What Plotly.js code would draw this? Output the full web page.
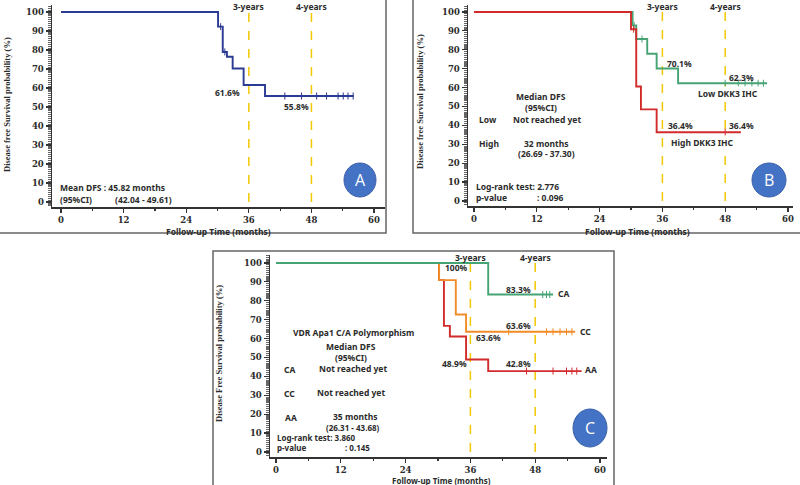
<!DOCTYPE html>
<html>
<head>
<meta charset="utf-8">
<script src="https://cdn.plot.ly/plotly-3.0.1.min.js"></script>
<style>
  html, body { margin: 0; padding: 0; background: #fff; }
  #km { width: 800px; height: 485px; }
</style>
</head>
<body>
<div id="km"></div>
<script>
// Kaplan-Meier curves, DFS (months)

// Panel A - whole cohort
const timeA = [0, 30.1, 31.0, 31.8, 32.9, 35.0, 39.1, 56.1];
const survA = [100, 92.3, 79.0, 76.5, 70.3, 61.6, 55.8, 55.8];
const censTimeA = [30.6, 31.4, 42.9, 46.1, 49.0, 50.9, 53.1, 54.1, 55.0, 56.0];
const censSurvA = [92.3, 79.0, 55.8, 55.8, 55.8, 55.8, 55.8, 55.8, 55.8, 55.8];

// Panel B - DKK3 IHC
const timeLow = [0, 30.3, 31.0, 33.1, 34.9, 39.0, 56.0];
const survLow = [100, 92.9, 85.7, 77.9, 70.1, 62.3, 62.3];
const censTimeLow = [30.6, 32.1, 48.0, 50.5, 51.8, 53.1, 54.3, 55.3];
const censSurvLow = [92.9, 85.7, 62.3, 62.3, 62.3, 62.3, 62.3, 62.3];
const timeHigh = [0, 30.0, 31.0, 31.9, 34.9, 51.0];
const survHigh = [100, 90.9, 60.6, 48.5, 36.4, 36.4];
const censTimeHigh = [30.5, 48.0];
const censSurvHigh = [90.9, 36.4];

// Panel C - VDR Apa1 C/A
const timeCA = [0, 39.3, 51.3];
const survCA = [100, 83.3, 83.3];
const censTimeCA = [49.4, 50.1, 50.7];
const censSurvCA = [83.3, 83.3, 83.3];
const timeCC = [0, 30.2, 33.3, 35.2, 55.4];
const survCC = [100, 90.9, 72.7, 63.6, 63.6];
const censTimeCC = [43.1, 50.1, 51.3, 52.6, 53.8, 54.8];
const censSurvCC = [63.6, 63.6, 63.6, 63.6, 63.6, 63.6];
const timeAA = [0, 30.2, 31.1, 32.2, 35.2, 39.3, 56.6];
const survAA = [100, 90.9, 66.7, 61.1, 48.9, 42.8, 42.8];
const censTimeAA = [46.4, 51.3, 53.8, 54.8, 55.7];
const censSurvAA = [42.8, 42.8, 42.8, 42.8, 42.8];

// ticks & milestones
const xTicks = [0, 12, 24, 36, 48, 60];
const yTicks = [0, 10, 20, 30, 40, 50, 60, 70, 80, 90, 100];
const milestones = [36, 48];
const milestoneLabels = ['3-years', '4-years'];

const col = {
  blue: '#2B3A92', green: '#45A374', red: '#D22B2B', orange: '#F28C28',
  yellow: '#F3C800', axis: '#333333', text: '#2b2b2b', badge: '#4472C4'
};

const W = 800, H = 485;
const PX = x => x / W;
const PY = y => 1 - y / H;
const B = s => '<b>' + s + '</b>';

const txtFont = { family: 'Noto Sans, DejaVu Sans, sans-serif', size: 8.5, color: col.text };
const tickFont = { family: 'DejaVu Serif, serif', size: 8.5, color: col.text };

function curve(x, y, color, xa, ya) {
  return { x: x, y: y, xaxis: xa, yaxis: ya, mode: 'lines', line: { shape: 'hv', color: color, width: 1.9 },
           hoverinfo: 'skip', showlegend: false };
}
function cens(x, y, color, xa, ya) {
  return { x: x, y: y, xaxis: xa, yaxis: ya, mode: 'markers',
           marker: { symbol: 'line-ns', size: 5, line: { color: color, width: 1 } },
           hoverinfo: 'skip', showlegend: false };
}

const data = [
  curve(timeA, survA, col.blue, 'x', 'y'), cens(censTimeA, censSurvA, col.blue, 'x', 'y'),
  curve(timeLow, survLow, col.green, 'x2', 'y2'), cens(censTimeLow, censSurvLow, col.green, 'x2', 'y2'),
  curve(timeHigh, survHigh, col.red, 'x2', 'y2'), cens(censTimeHigh, censSurvHigh, col.red, 'x2', 'y2'),
  curve(timeAA, survAA, col.red, 'x3', 'y3'), cens(censTimeAA, censSurvAA, col.red, 'x3', 'y3'),
  curve(timeCC, survCC, col.orange, 'x3', 'y3'), cens(censTimeCC, censSurvCC, col.orange, 'x3', 'y3'),
  curve(timeCA, survCA, col.green, 'x3', 'y3'), cens(censTimeCA, censSurvCA, col.green, 'x3', 'y3')
];

function xAx(dom, rng, anchor) {
  return { domain: dom, range: rng, anchor: anchor, tickmode: 'array', tickvals: xTicks, ticktext: xTicks.map(v => B(v)),
           ticks: 'outside', ticklen: 4, tickcolor: col.axis, tickwidth: 1.2,
           showline: true, linecolor: col.axis, linewidth: 1.5,
           showgrid: false, zeroline: false, tickfont: tickFont, fixedrange: true,
           minor: { dtick: 6, tick0: 0, ticks: 'outside', ticklen: 2, tickcolor: col.axis, showgrid: false } };
}
function yAx(dom, rng, anchor) {
  return { domain: dom, range: rng, anchor: anchor, tickmode: 'array', tickvals: yTicks, ticktext: yTicks.map(v => B(v)),
           ticks: 'outside', ticklen: 5, tickcolor: col.axis, tickwidth: 1.2,
           showline: true, linecolor: col.axis, linewidth: 1.5,
           showgrid: false, zeroline: false, tickfont: tickFont, fixedrange: true,
           minor: { dtick: 1, tick0: 0, ticks: 'outside', ticklen: 2.5, tickcolor: '#666', showgrid: false } };
}

const shapes = [];
const annotations = [];

// panel frames (pixel boxes)
[[-2, -2, 386, 233], [413, -2, 802, 233], [213, 251, 614, 490]].forEach(b => {
  shapes.push({ type: 'rect', xref: 'paper', yref: 'paper', x0: PX(b[0]), x1: PX(b[2]), y0: PY(b[3]), y1: PY(b[1]),
                line: { color: '#666', width: 1.5 }, fillcolor: 'rgba(0,0,0,0)', layer: 'below' });
});

// milestone lines + labels
[['x', 'y', 7], ['x2', 'y2', 7], ['x3', 'y3', 257]].forEach(p => {
  milestones.forEach((m, i) => {
    shapes.push({ type: 'line', xref: p[0], yref: p[1], x0: m, x1: m, y0: 0, y1: 100,
                  line: { color: col.yellow, width: 1.5, dash: 'dash' }, layer: 'below' });
    annotations.push({ xref: p[0], yref: 'paper', x: m, y: PY(p[2]), text: B(milestoneLabels[i]),
                       showarrow: false, font: txtFont, xanchor: 'center', yanchor: 'middle' });
  });
});

function note(text, x, y, anchor, extra) {
  annotations.push(Object.assign({ xref: 'paper', yref: 'paper', x: PX(x), y: PY(y), text: B(text),
    showarrow: false, font: txtFont, xanchor: anchor || 'center', yanchor: 'middle' }, extra || {}));
}
function dnote(text, xa, ya, x, y, anchor, extra) {
  annotations.push(Object.assign({ xref: xa, yref: ya, x: x, y: y, text: B(text),
    showarrow: false, font: txtFont, xanchor: anchor || 'center', yanchor: 'middle' }, extra || {}));
}
const wbg = { bgcolor: '#ffffff', borderpad: 1 };
const small = { font: Object.assign({}, txtFont, { size: 8 }) };

// axis titles
const yTitleFont = { family: 'Liberation Serif, serif', size: 8.5, color: col.text };
note('Follow-up Time (months)', 218, 231);
note('Follow-up Time (months)', 637, 231);
note('Follow-up Time (months)', 441, 480, 'center', small);
note('Disease free Survival probability (%)', 7, 105, 'center', { textangle: -90, font: yTitleFont });
note('Disease free Survival probability (%)', 420, 102, 'center', { textangle: -90, font: yTitleFont });
note('Disease Free Survival probability (%)', 219, 354, 'center', { textangle: -90, font: yTitleFont });

// Panel A texts
dnote('61.6%', 'x', 'y', 32.0, 57.9);
dnote('55.8%', 'x', 'y', 45.2, 50.5);
note('Mean DFS : 45.82 months', 58, 188, 'left');
note('(95%CI)', 58, 199, 'left');
note('(42.04 - 49.61)', 113, 199, 'left');

// Panel B texts
note('Median DFS', 541, 97);
note('(95%CI)', 541, 107);
note('Low', 477, 119, 'left');
note('Not reached yet', 547, 119);
note('High', 477, 143, 'left');
note('32 months', 546, 143);
note('(26.69 - 37.30)', 546, 153);
note('Log-rank test: 2.776', 474, 187, 'left');
note('p-value', 474, 197, 'left');
note(': 0.096', 535, 197, 'left');
dnote('70.1%', 'x2', 'y2', 39.2, 73.0);
dnote('62.3%', 'x2', 'y2', 51.2, 65.6);
dnote('Low DKK3 IHC', 'x2', 'y2', 48.5, 57.1, 'center', wbg);
dnote('36.4%', 'x2', 'y2', 39.4, 39.7);
dnote('36.4%', 'x2', 'y2', 51.2, 39.7);
dnote('High DKK3 IHC', 'x2', 'y2', 43.6, 31.2, 'center', wbg);

// Panel C texts
note('VDR Apa1 C/A Polymorphism', 353, 332);
note('Median DFS', 351, 346);
note('(95%CI)', 351, 357);
note('CA', 282, 369, 'left');
note('Not reached yet', 353, 368);
note('CC', 282, 393, 'left');
note('Not reached yet', 351, 392);
note('AA', 283, 417, 'left');
note('35 months', 355, 416);
note('(26.31 - 43.68)', 353, 427, 'center', small);
note('Log-rank test: 3.860', 275, 437, 'left', small);
note('p-value', 275, 447, 'left', small);
note(': 0.145', 343, 447, 'left', small);
dnote('100%', 'x3', 'y3', 33.5, 97.4);
dnote('83.3%', 'x3', 'y3', 45.0, 86.2);
dnote('CA', 'x3', 'y3', 51.9, 83.6, 'left');
dnote('63.6%', 'x3', 'y3', 45.0, 66.7);
dnote('CC', 'x3', 'y3', 55.9, 64.0, 'left');
dnote('63.6%', 'x3', 'y3', 39.3, 60.8);
dnote('48.9%', 'x3', 'y3', 33.0, 46.6);
dnote('42.8%', 'x3', 'y3', 45.0, 46.6);
dnote('AA', 'x3', 'y3', 56.9, 43.4, 'left');

// panel badges
[['A', 360, 180, 16, 17], ['B', 769, 180, 17, 17], ['C', 590, 428, 17, 19]].forEach(b => {
  shapes.push({ type: 'circle', xref: 'paper', yref: 'paper', x0: PX(b[1] - b[3]), x1: PX(b[1] + b[3]),
                y0: PY(b[2] + b[4]), y1: PY(b[2] - b[4]), fillcolor: col.badge, line: { color: '#3A62A8', width: 1 } });
  annotations.push({ xref: 'paper', yref: 'paper', x: PX(b[1]), y: PY(b[2]), text: b[0], showarrow: false,
                     xanchor: 'center', yanchor: 'middle',
                     font: { family: 'Open Sans, sans-serif', size: 16, color: '#ffffff' } });
});

const layout = {
  width: W, height: H,
  margin: { l: 0, r: 0, t: 0, b: 0 },
  paper_bgcolor: '#ffffff', plot_bgcolor: 'rgba(0,0,0,0)',
  showlegend: false,
  xaxis: xAx([PX(52), PX(385)], [-1.73, 62.1], 'y'),
  yaxis: yAx([PY(207), PY(5)], [-2.6, 103.7], 'x'),
  xaxis2: xAx([PX(468), PX(793)], [-1.15, 60.96], 'y2'),
  yaxis2: yAx([PY(206), PY(5)], [-2.65, 103.7], 'x2'),
  xaxis3: xAx([PX(270), PX(607)], [-1.11, 61.3], 'y3'),
  yaxis3: yAx([PY(457), PY(255)], [-2.65, 104.2], 'x3'),
  shapes: shapes,
  annotations: annotations
};

Plotly.newPlot('km', data, layout, { displayModeBar: false, staticPlot: true });
</script>
</body>
</html>
